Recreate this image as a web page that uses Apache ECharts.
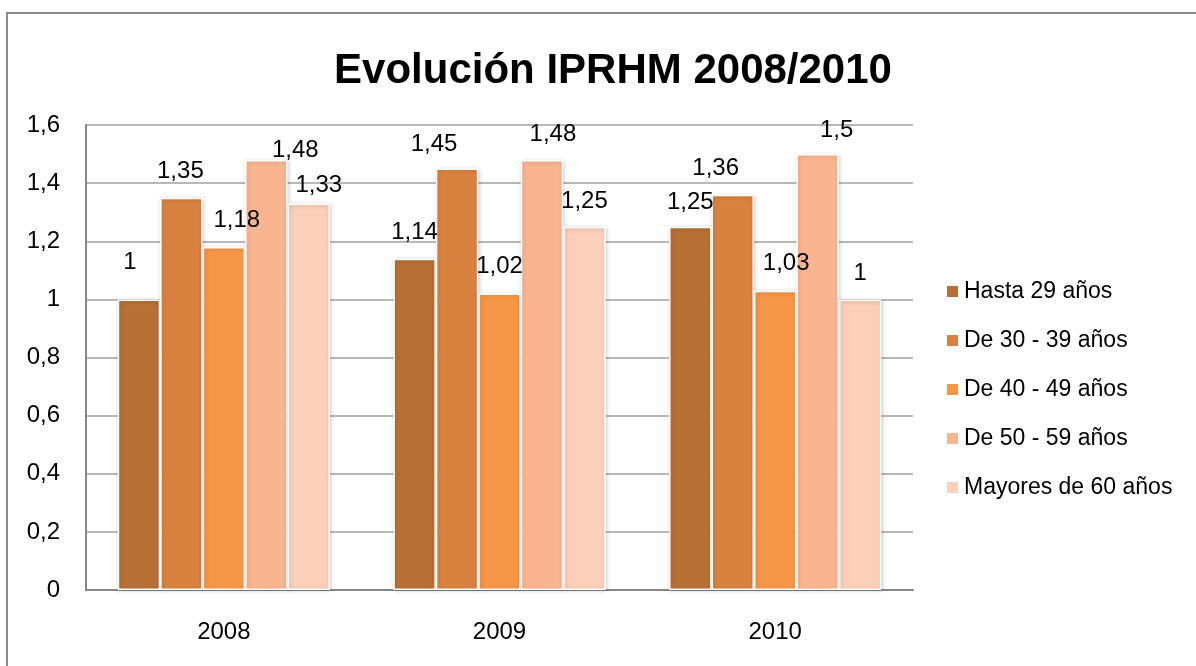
<!DOCTYPE html>
<html>
<head>
<meta charset="utf-8">
<title>Evolución IPRHM 2008/2010</title>
<script src="https://cdn.jsdelivr.net/npm/echarts@6/dist/echarts.min.js"></script>
<style>
  html, body { margin: 0; padding: 0; background: #fff; }
  #chart { width: 1196px; height: 666px; }
</style>
</head>
<body>
<div id="chart"></div>
<script>
  // datos
  var years = ['2008', '2009', '2010']
  var groups = ['Hasta 29 años', 'De 30 - 39 años', 'De 40 - 49 años', 'De 50 - 59 años', 'Mayores de 60 años']
  var hasta29 = [1, 1.14, 1.25]
  var de30a39 = [1.35, 1.45, 1.36]
  var de40a49 = [1.18, 1.02, 1.03]
  var de50a59 = [1.48, 1.48, 1.5]
  var mayores60 = [1.33, 1.25, 1]
  var yTicks = [0, 0.2, 0.4, 0.6, 0.8, 1, 1.2, 1.4, 1.6]

  // las etiquetas del original estan movidas a mano
  var labelNudge = [
    [[-9, -11], [0, 0], [0, 2]],
    [[-1, 0], [-23, 2], [-17, 0]],
    [[13, -1], [0, -1], [11, -1]],
    [[29, 16], [11, 0], [19, 2]],
    [[10, 8], [0, 1], [0, 0]]
  ]

  var colors = ['#B87035', '#D9823F', '#F79646', '#F9B590', '#FBCFB8']
  var font = "'Liberation Sans', Arial, sans-serif"
  var values = [hasta29, de30a39, de40a49, de50a59, mayores60]

  function coma(v) {
    return String(v).replace('.', ',')
  }

  var series = values.map(function (vals, s) {
    return {
      name: groups[s],
      type: 'bar',
      barGap: 0,
      barCategoryGap: '23%',
      itemStyle: {
        color: colors[s],
        borderColor: '#fff',
        borderWidth: 1.5,
        shadowColor: 'rgba(0,0,0,0.18)',
        shadowBlur: 4,
        shadowOffsetX: 1,
        shadowOffsetY: 1
      },
      label: {
        show: true,
        position: 'top',
        distance: 14,
        color: '#000',
        fontFamily: font,
        fontSize: 24,
        formatter: function (p) { return coma(p.value) }
      },
      data: vals.map(function (v, i) {
        return { value: v, label: { offset: labelNudge[s][i] } }
      })
    }
  })

  var chart = echarts.init(document.getElementById('chart'))
  chart.setOption({
    animation: false,
    backgroundColor: '#fff',
    color: colors,
    title: {
      text: 'Evolución IPRHM 2008/2010',
      left: 608,
      top: 45,
      textAlign: 'center',
      textStyle: {
        fontFamily: font,
        fontWeight: 'bold',
        fontSize: 42,
        color: '#000'
      }
    },
    graphic: [{
      type: 'rect',
      shape: { x: 7, y: 13, width: 1300, height: 700 },
      style: { fill: 'none', stroke: '#8a8a8a', lineWidth: 2 },
      silent: true
    }],
    legend: {
      orient: 'vertical',
      left: 940,
      top: 275,
      itemWidth: 13,
      itemHeight: 13,
      itemGap: 26,
      icon: 'rect',
      data: groups,
      textStyle: {
        fontFamily: font,
        fontSize: 23,
        lineHeight: 22,
        color: '#000'
      }
    },
    grid: {
      left: 86,
      right: 283,
      top: 125,
      bottom: 76
    },
    xAxis: {
      type: 'category',
      data: years,
      axisTick: { show: false },
      axisLine: { lineStyle: { color: '#878787', width: 2 } },
      axisLabel: {
        margin: 30,
        color: '#000',
        fontFamily: font,
        fontSize: 24
      }
    },
    yAxis: {
      type: 'value',
      min: yTicks[0],
      max: yTicks[yTicks.length - 1],
      interval: 0.2,
      axisLine: { show: true, lineStyle: { color: '#878787', width: 2 } },
      axisTick: { show: false },
      splitLine: { lineStyle: { color: '#a0a0a0', width: 1.5 } },
      axisLabel: {
        margin: 26,
        color: '#000',
        fontFamily: font,
        fontSize: 24,
        formatter: function (v) { return coma(Math.round(v * 10) / 10) }
      }
    },
    series: series
  })
</script>
</body>
</html>
